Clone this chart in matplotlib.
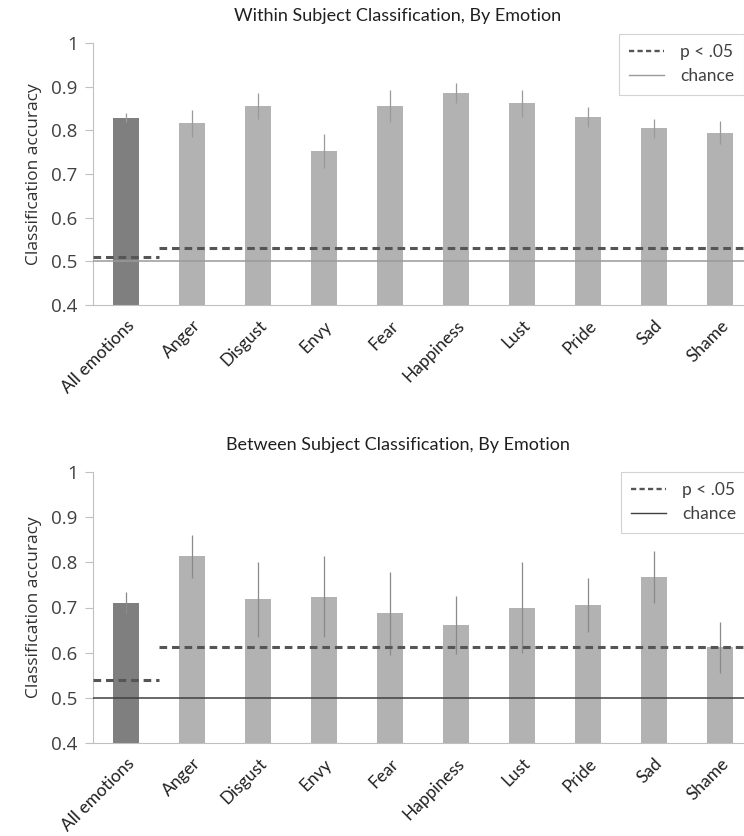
import numpy as np
import matplotlib
matplotlib.use("Agg")
import matplotlib.pyplot as plt
from matplotlib.lines import Line2D

# ---- data ----
EMOTIONS = ["All emotions", "Anger", "Disgust", "Envy", "Fear",
            "Happiness", "Lust", "Pride", "Sad", "Shame"]

WITHIN_ACC = [0.829, 0.816, 0.856, 0.752, 0.856, 0.886, 0.862, 0.830, 0.805, 0.795]
WITHIN_ERR = [0.011, 0.031, 0.030, 0.039, 0.036, 0.023, 0.031, 0.023, 0.022, 0.027]
WITHIN_SIG_ALL = 0.511
WITHIN_SIG_EMO = 0.531

BETWEEN_ACC = [0.710, 0.813, 0.718, 0.724, 0.687, 0.662, 0.700, 0.706, 0.768, 0.612]
BETWEEN_ERR = [0.025, 0.047, 0.083, 0.090, 0.092, 0.064, 0.100, 0.060, 0.057, 0.056]
BETWEEN_SIG_ALL = 0.539
BETWEEN_SIG_EMO = 0.613

CHANCE = 0.5
Y_TICKS = [0.4, 0.5, 0.6, 0.7, 0.8, 0.9, 1.0]
Y_TICK_LABELS = ["0.4", "0.5", "0.6", "0.7", "0.8", "0.9", "1"]

TITLE_FONT = "Lato"
TEXT_FONT = "Open Sans"
DASH = (0, (2.5, 1.6))


def draw_panel(fig, rect, title, title_y, acc, err, sig_all, sig_emo,
               chance_color, err_color, legend_anchor):
    ax = fig.add_axes(rect)
    x = np.arange(len(EMOTIONS))
    colors = ["#7f7f7f"] + ["#b2b2b2"] * (len(EMOTIONS) - 1)

    ax.bar(x, np.array(acc) - 0.4, bottom=0.4, width=0.4,
           color=colors, zorder=2)
    ax.errorbar(x, acc, yerr=err, fmt="none", ecolor=err_color,
                elinewidth=0.9, capsize=0, zorder=3)

    ax.axhline(CHANCE, color=chance_color, linewidth=1.1, zorder=4)
    ax.plot([-0.5, 0.5], [sig_all, sig_all], color="#555555",
            linestyle=DASH, linewidth=2.2, zorder=5)
    ax.plot([0.5, 10], [sig_emo, sig_emo], color="#555555",
            linestyle=DASH, linewidth=2.2, zorder=5)

    ax.set_xlim(-0.5, 9.36)
    ax.set_ylim(0.4, 1.0)
    ax.set_yticks(Y_TICKS)
    ax.set_yticklabels(Y_TICK_LABELS, fontsize=13.5, family=TEXT_FONT,
                       color="#404040")
    ax.set_xticks(x)
    ax.set_xticklabels(EMOTIONS, rotation=45, ha="right",
                       rotation_mode="anchor", fontsize=12.5,
                       family=TITLE_FONT, color="#202020")
    ax.tick_params(axis="x", length=0, pad=9)
    ax.tick_params(axis="y", length=6, width=0.8, color="#c0c0c0",
                   pad=5)

    for side in ["top", "right"]:
        ax.spines[side].set_visible(False)
    for side in ["left", "bottom"]:
        ax.spines[side].set_color("#c0c0c0")
        ax.spines[side].set_linewidth(0.8)

    ax.set_ylabel("Classification accuracy", fontsize=12.5,
                  family=TEXT_FONT, color="#303030", labelpad=7)

    fig.text(0.535, title_y, title, ha="center", va="center",
             fontsize=13, family=TITLE_FONT, color="#202020")

    handles = [
        Line2D([], [], color="#555555", linestyle=(0, (2.2, 1.4)),
               linewidth=1.7),
        Line2D([], [], color=chance_color, linewidth=1.0),
    ]
    legend = ax.legend(handles, ["p < .05", "chance"],
                       loc="upper left", bbox_to_anchor=legend_anchor,
                       bbox_transform=fig.transFigure, frameon=True,
                       fancybox=False,
                       prop={"family": TITLE_FONT, "size": 12.5},
                       handlelength=2.0, handletextpad=0.9,
                       borderpad=0.6, labelspacing=0.45,
                       borderaxespad=0)
    legend.get_frame().set_edgecolor("#c8c8c8")
    legend.get_frame().set_linewidth(0.8)
    for text in legend.get_texts():
        text.set_color("#404040")
    return ax


def main():
    fig = plt.figure(figsize=(7.44, 8.36), dpi=100)

    draw_panel(fig, [0.125, 1 - 305 / 836, 0.875, 262 / 836],
               "Within Subject Classification, By Emotion",
               1 - 16 / 836,
               WITHIN_ACC, WITHIN_ERR, WITHIN_SIG_ALL, WITHIN_SIG_EMO,
               chance_color="#9a9a9a", err_color="#9a9a9a",
               legend_anchor=(619 / 744, 1 - 34 / 836))

    draw_panel(fig, [0.125, 1 - 743 / 836, 0.875, 271 / 836],
               "Between Subject Classification, By Emotion",
               1 - 445 / 836,
               BETWEEN_ACC, BETWEEN_ERR, BETWEEN_SIG_ALL, BETWEEN_SIG_EMO,
               chance_color="#404040", err_color="#8a8a8a",
               legend_anchor=(621 / 744, 1 - 472 / 836))

    fig.savefig("out.png", dpi=100)
    plt.close(fig)


if __name__ == "__main__":
    main()
